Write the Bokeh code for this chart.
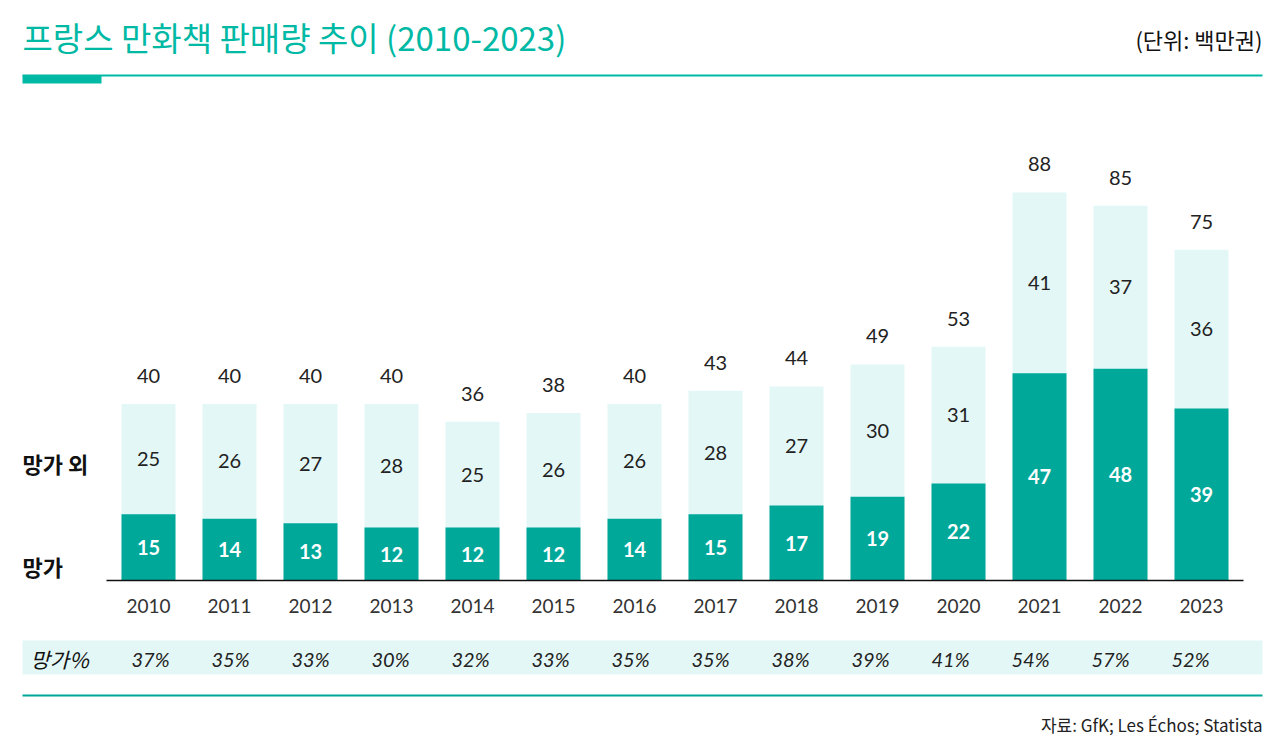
from bokeh.plotting import figure
from bokeh.models import Range1d, Label
from bokeh.embed import file_html
from bokeh.resources import INLINE
from bokeh.core.properties import value

years = ["2010", "2011", "2012", "2013", "2014", "2015", "2016",
         "2017", "2018", "2019", "2020", "2021", "2022", "2023"]
manga = [15, 14, 13, 12, 12, 12, 14, 15, 17, 19, 22, 47, 48, 39]
other = [25, 26, 27, 28, 25, 26, 26, 28, 27, 30, 31, 41, 37, 36]
total = [40, 40, 40, 40, 36, 38, 40, 43, 44, 49, 53, 88, 85, 75]
pct = ["37%", "35%", "33%", "30%", "32%", "33%", "35%",
       "35%", "38%", "39%", "41%", "54%", "57%", "52%"]

TEAL = "#00b9a5"
DARK = "#00a89a"
LIGHT = "#e3f7f6"
KR = "Noto Sans CJK KR"
NUM = "Lato"

W, H = 1272, 740
X0, XS = 148.0, 81.0      # page x of first bar centre, px per category
Y0, YS = 580.0, 4.41      # page y of baseline, px per unit
OFF = 0                   # canvas origin on the page


def dx(px):
    return (px - X0) / XS


def dy(py):
    return (Y0 - py) / YS


p = figure(width=W, height=H, output_backend="svg", toolbar_location=None,
           x_range=Range1d(dx(OFF), dx(OFF + W)), y_range=Range1d(dy(OFF + H), dy(OFF)),
           min_border=0)
p.axis.visible = False
p.grid.visible = False
p.outline_line_color = None
p.background_fill_color = "white"
p.border_fill_color = "white"

xs = list(range(len(years)))

# bars
p.vbar(x=xs, top=total, bottom=0, width=54 / XS, fill_color=LIGHT, line_color=None)
p.vbar(x=xs, top=manga, bottom=0, width=54 / XS, fill_color=DARK, line_color=None)

# baseline
p.segment(x0=[dx(106)], y0=[0], x1=[dx(1243)], y1=[0], line_color="#111111", line_width=1.5)

# value labels
p.text(x=xs, y=[t + 28 / YS for t in total], text=[str(t) for t in total],
       text_align="center", text_baseline="middle", text_font=value(NUM),
       text_font_size="20px", text_color="#222222")
p.text(x=xs, y=[(m + t) / 2 for m, t in zip(manga, total)], text=[str(o) for o in other],
       text_align="center", text_baseline="middle", text_font=value(NUM),
       text_font_size="20px", text_color="#222222")
p.text(x=xs, y=[m / 2 for m in manga], text=[str(m) for m in manga],
       text_align="center", text_baseline="middle", text_font=value(NUM),
       text_font_size="20px", text_font_style="bold", text_color="white")

# year labels
p.text(x=xs, y=[dy(605)] * len(xs), text=years, text_align="center", text_baseline="middle",
       text_font=value(NUM), text_font_size="19px", text_color="#333333")

# percentage band
p.quad(left=[dx(22)], right=[dx(1262)], top=[dy(640)], bottom=[dy(674)],
       fill_color=LIGHT, line_color=None)
p.text(x=[i * 80 / XS + 2 / XS for i in xs], y=[dy(658)] * len(xs), text=pct,
       text_align="center", text_baseline="middle", text_font=value(NUM),
       text_font_size="20px", text_font_style="italic", text_color="#222222")

# rules
p.quad(left=[dx(22)], right=[dx(1262)], top=[dy(74)], bottom=[dy(76)], fill_color=TEAL, line_color=None)
p.quad(left=[dx(22)], right=[dx(101)], top=[dy(75)], bottom=[dy(83)], fill_color=TEAL, line_color=None)
p.quad(left=[dx(22)], right=[dx(1262)], top=[dy(694)], bottom=[dy(696)], fill_color=DARK, line_color=None)


def lab(px, py, text, **kw):
    p.add_layout(Label(x=dx(px), y=dy(py), text=text, text_baseline="middle", **kw))


lab(22, 36, "프랑스 만화책 판매량 추이 (2010-2023)", text_font=KR, text_font_size="33px",
    text_color=TEAL)
lab(1262, 38, "(단위: 백만권)", text_font=KR, text_font_size="22px", text_color="#111111",
    text_align="right")
lab(22, 462, "망가 외", text_font=KR, text_font_size="22px", text_color="#111111",
    text_font_style="bold")
lab(22, 565, "망가", text_font=KR, text_font_size="22px", text_color="#111111",
    text_font_style="bold")
lab(30, 658, "망가%", text_font=KR, text_font_size="21px", text_color="#111111",
    text_font_style="italic")
lab(1262, 724, "자료: GfK; Les Échos; Statista", text_font=KR, text_font_size="17px",
    text_color="#222222", text_align="right")

open("out.html", "w").write(file_html(p, INLINE))
